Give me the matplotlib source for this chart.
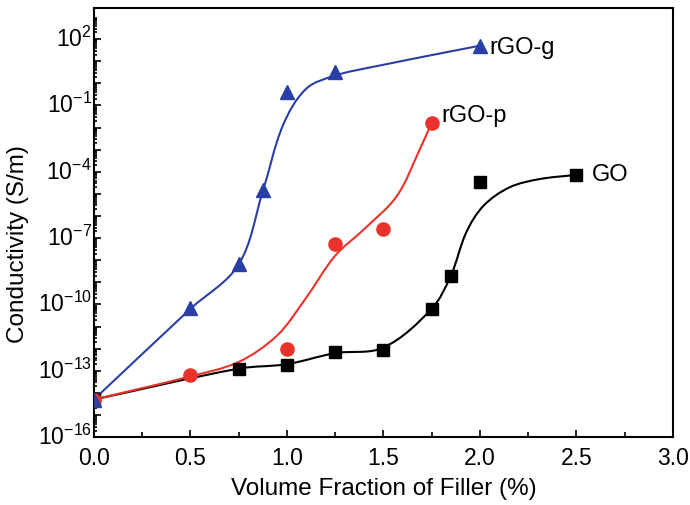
import numpy as np
import matplotlib
matplotlib.use("Agg")
import matplotlib.pyplot as plt
import matplotlib.transforms as mtransforms
from matplotlib.path import Path
from matplotlib.patches import PathPatch
from matplotlib.ticker import FixedLocator, FuncFormatter, MultipleLocator

plt.rcParams['font.family'] = ['Liberation Sans', 'DejaVu Sans']
plt.rcParams['mathtext.fontset'] = 'custom'
plt.rcParams['mathtext.rm'] = 'Liberation Sans'
plt.rcParams['mathtext.it'] = 'Liberation Sans:italic'

# Measured conductivity, stored as log10(S/m)
go_x = [0.0, 0.75, 1.0, 1.25, 1.5, 1.75, 1.85, 2.0, 2.5]
go_log = [-14.3, -12.92, -12.75, -12.17, -12.05, -10.21, -8.73, -4.45, -4.14]

rgop_x = [0.0, 0.5, 1.0, 1.25, 1.5, 1.75]
rgop_log = [-14.3, -13.2, -11.99, -7.27, -6.59, -1.8]

rgog_x = [0.0, 0.5, 0.75, 0.875, 1.0, 1.25, 2.0]
rgog_log = [-14.3, -10.16, -8.17, -4.82, -0.4, 0.5, 1.7]

# Knots of the smooth fitted trend lines (log10 S/m)
go_fit_x = [0.0, 0.75, 1.0, 1.25, 1.5, 1.75, 1.85, 1.93, 2.02, 2.155, 2.31, 2.5]
go_fit_log = [-14.3, -12.9, -12.7, -12.2, -11.95, -10.2, -8.7, -6.74, -5.53, -4.7, -4.33, -4.14]

rgop_fit_x = [0.0, 0.5, 0.75, 0.95, 1.1, 1.25, 1.4, 1.57, 1.69, 1.75]
rgop_fit_log = [-14.3, -13.25, -12.6, -11.4, -9.7, -7.8, -6.6, -5.1, -2.97, -1.8]

rgog_fit_x = [0.0, 0.5, 0.75, 0.875, 0.98, 1.10, 1.25, 1.45, 2.0]
rgog_fit_log = [-14.3, -10.2, -8.2, -4.9, -1.9, -0.25, 0.35, 0.75, 1.7]

BLUE = '#2a3ea8'
RED = '#e8322b'
BLACK = '#000000'

# scale of one x unit and one decade on screen, used to shape the curves
SX, SY = 193.0, 22.1


def smooth_path(x, ylog):
    """G1-smooth cubic Bezier path through the knots, shaped in log10 space."""
    P = np.column_stack([np.asarray(x, float) * SX, np.asarray(ylog, float) * SY])
    n = len(P)
    T = np.zeros_like(P)
    for i in range(n):
        if i == 0:
            d = P[1] - P[0]
        elif i == n - 1:
            d = P[-1] - P[-2]
        else:
            d = P[i + 1] - P[i - 1]
        T[i] = d / np.hypot(*d)
    pts = [P[0]]
    codes = [Path.MOVETO]
    for k in range(n - 1):
        L = np.hypot(*(P[k + 1] - P[k]))
        pts += [P[k] + T[k] * L / 3, P[k + 1] - T[k + 1] * L / 3, P[k + 1]]
        codes += [Path.CURVE4] * 3
    pts = np.array(pts)
    verts = np.column_stack([pts[:, 0] / SX, 10 ** (pts[:, 1] / SY)])
    return Path(verts, codes)


fig = plt.figure(figsize=(6.9, 5.06), dpi=100)
ax = fig.add_axes([0.136, 0.134, 0.839, 0.848])
ax.set_yscale('log')

for fx, fl, col in [(go_fit_x, go_fit_log, BLACK),
                    (rgop_fit_x, rgop_fit_log, RED),
                    (rgog_fit_x, rgog_fit_log, BLUE)]:
    ax.add_patch(PathPatch(smooth_path(fx, fl), facecolor='none',
                           edgecolor=col, lw=1.5, zorder=2))

ax.plot(go_x, 10 ** np.array(go_log), 's', color=BLACK, ms=8, zorder=3, ls='none')
ax.plot(rgop_x, 10 ** np.array(rgop_log), 'o', color=RED, ms=9.5, zorder=3, ls='none')
ax.plot(rgog_x, 10 ** np.array(rgog_log), '^', color=BLUE, ms=10, zorder=4, ls='none')

ax.annotate('rGO-g', (rgog_x[-1], 10 ** rgog_log[-1]), xytext=(7, -5),
            textcoords='offset points', va='baseline', ha='left', fontsize=17)
ax.annotate('rGO-p', (rgop_x[-1], 10 ** rgop_log[-1]), xytext=(7, 1.8),
            textcoords='offset points', va='baseline', ha='left', fontsize=17)
ax.annotate('GO', (go_x[-1], 10 ** go_log[-1]), xytext=(11, -4),
            textcoords='offset points', va='baseline', ha='left', fontsize=17)

ax.set_xlim(0, 3.0)
ax.set_ylim(1e-16, 10 ** 3.4)

decades = np.arange(-16, 3)
ax.yaxis.set_major_locator(FixedLocator(10.0 ** decades))
minor = [s * 10.0 ** e for e in decades for s in range(2, 10)]
ax.yaxis.set_minor_locator(FixedLocator(minor))


def ylab(v, pos):
    e = int(round(np.log10(v)))
    if e % 3 == 2:
        return r'$10^{%d}$' % e
    return ''


ax.yaxis.set_major_formatter(FuncFormatter(ylab))
ax.yaxis.set_minor_formatter(FuncFormatter(lambda v, p: ''))

ax.xaxis.set_major_locator(MultipleLocator(0.5))
ax.xaxis.set_minor_locator(MultipleLocator(0.25))
ax.xaxis.set_major_formatter(FuncFormatter(lambda v, p: '%.1f' % v))

ax.tick_params(which='both', direction='in', top=False, right=False, width=1.2,
               labelsize=16.5)
ax.tick_params(which='major', length=5)
ax.tick_params(which='minor', length=2.5)
ax.tick_params(axis='x', which='minor', length=3.5)
ax.tick_params(axis='x', pad=6.5)
ax.tick_params(axis='y', pad=1.5)

# lift the decade labels a touch so the lowest one clears the x labels
lift = mtransforms.ScaledTranslation(0, 2.5 / 72, fig.dpi_scale_trans)
for lbl in ax.get_yticklabels():
    lbl.set_transform(lbl.get_transform() + lift)

for s in ax.spines.values():
    s.set_linewidth(1.5)

ax.set_xlabel('Volume Fraction of Filler (%)', fontsize=17.5)
ax.set_ylabel('Conductivity (S/m)', fontsize=17.5)
ax.xaxis.set_label_coords(0.501, -0.093)
ax.yaxis.set_label_coords(-0.112, 0.452)

fig.savefig('out.png', dpi=100)
